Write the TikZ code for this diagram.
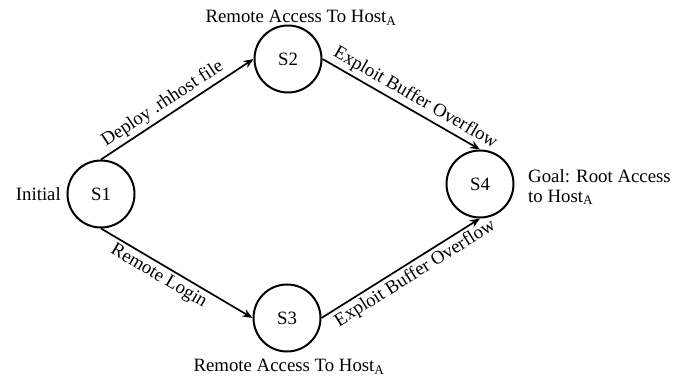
\documentclass[tikz,border=0pt]{standalone}
\usepackage{fontspec}
\setmainfont{Liberation Serif}
\usetikzlibrary{arrows.meta}
\begin{document}
\begin{tikzpicture}[x=1pt,y=1pt,
  every node/.style={font=\fontsize{18.8}{20}\selectfont},
  state/.style={circle,draw,line width=2pt,minimum size=67pt,inner sep=0pt},
  trans/.style={line width=1.7pt,-{Stealth[length=10pt,width=8pt]}},
  lbl/.style={sloped,inner sep=3pt}]
\useasboundingbox (0,0) rectangle (682,385);

% states
\node[state] (s1) at (101,191) {S1};
\node[state] (s2) at (288,326) {S2};
\node[state] (s3) at (287,67)  {S3};
\node[state] (s4) at (480,201) {S4};

% state annotations
\node[anchor=east,inner sep=0pt] (init) at (61,191) {Initial};
\node (top) at (301,367) {Remote Access To Host\textsubscript{A}};
\node (bot) at (289,18)  {Remote Access To Host\textsubscript{A}};
\node[anchor=west,align=left,inner sep=0pt] (goal) at (528,198)
  {Goal: Root Access\\to Host\textsubscript{A}};

% transitions
\draw[trans] (s1.north) -- node[lbl,above,pos=0.45] {Deploy .rhhost file} (s2.west);
\draw[trans] (s1.south) -- node[lbl,below,pos=0.42] {Remote Login} (s3.west);
\draw[trans] (s2.east) -- node[lbl,above,pos=0.55] {Exploit Buffer Overflow} (s4.north);
\draw[trans] (s3.east) -- node[lbl,below,pos=0.55] {Exploit Buffer Overflow} (s4.south);
\end{tikzpicture}
\end{document}
